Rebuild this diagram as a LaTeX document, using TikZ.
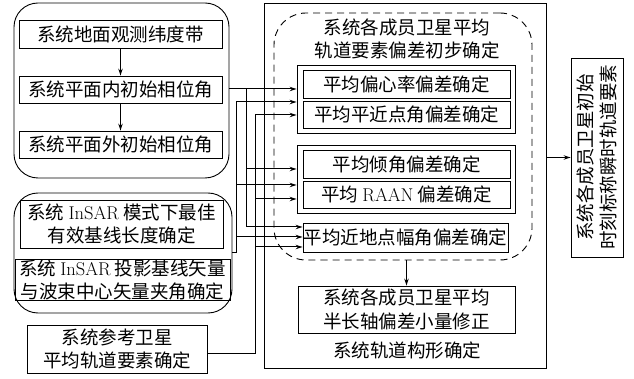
\documentclass[tikz,border=0pt]{standalone}
\usepackage{fontspec}
\newfontfamily\cjk{Noto Sans CJK SC}
\usetikzlibrary{arrows.meta,shapes.misc}
\tikzset{
  txt/.style={font=\cjk\fontsize{18.5}{23.5}\selectfont, align=center, inner sep=0pt},
  box/.style={txt, draw, line width=0.9pt},
  grp/.style={draw, line width=0.9pt, rounded corners=24pt, inner sep=0pt},
  cgrp/.style={draw, line width=0.9pt, chamfered rectangle, chamfered rectangle xsep=8pt, chamfered rectangle ysep=8pt, inner sep=0pt},
  dgrp/.style={draw, line width=0.9pt, rounded corners=32pt, dash pattern=on 7pt off 5pt, inner sep=0pt},
  conn/.style={line width=1pt},
  arr/.style={conn, -{Stealth[length=7pt,width=4.5pt]}}
}
\begin{document}
\begin{tikzpicture}[x=1pt,y=-1pt]
\useasboundingbox (0,0) rectangle (634,379);
% left group 1
\node[grp, minimum width=215pt, minimum height=175pt] (lg1) at (121.5,90.5) {};
\node[box, minimum width=203pt, minimum height=28pt] (b1) at (120.5,34) {系统地面观测纬度带};
\node[box, minimum width=203pt, minimum height=27pt] (b2) at (120.5,89.5) {系统平面内初始相位角};
\node[box, minimum width=203pt, minimum height=27pt] (b3) at (120.5,144.5) {系统平面外初始相位角};
\draw[arr] (b1) -- (b2);
\draw[arr] (b2) -- (b3);
% left group 2
\node[grp, minimum width=218pt, minimum height=120pt] (lg2) at (123,253) {};
\node[box, minimum width=203pt, minimum height=48pt] (b4) at (121.5,224) {系统 {\rmfamily InSAR} 模式下最佳\\有效基线长度确定};
\node[box, minimum width=215pt, minimum height=40pt] (b5) at (122.5,280) {系统 {\rmfamily InSAR} 投影基线矢量\\与波束中心矢量夹角确定};
% reference satellite
\node[box, minimum width=180pt, minimum height=48pt] (b6) at (117,349) {系统参考卫星\\平均轨道要素确定};
% main box
\node[draw, line width=0.9pt, minimum width=282pt, minimum height=365pt, inner sep=0pt] (main) at (405,185.5) {};
\node[txt] (mainlbl) at (407,350) {系统轨道构形确定};
% dashed region
\node[dgrp, minimum width=258pt, minimum height=247pt] (dash) at (403,136.5) {};
\node[txt] (dtitle) at (407,39) {系统各成员卫星平均\\轨道要素偏差初步确定};
% chamfered groups
\node[cgrp, minimum width=218pt, minimum height=68pt] (cg1) at (406,99) {};
\node[box, minimum width=207pt, minimum height=28pt] (e1) at (406.5,84) {平均偏心率偏差确定};
\node[box, minimum width=207pt, minimum height=27pt] (e2) at (406.5,114.5) {平均平近点角偏差确定};
\node[cgrp, minimum width=218pt, minimum height=68pt] (cg2) at (406,179) {};
\node[box, minimum width=207pt, minimum height=28pt] (e3) at (406.5,164) {平均倾角偏差确定};
\node[box, minimum width=207pt, minimum height=27pt] (e4) at (406.5,194.5) {平均 {\rmfamily RAAN} 偏差确定};
\node[box, minimum width=205pt, minimum height=29pt] (e5) at (405.5,237.5) {平均近地点幅角偏差确定};
% semi-major axis box
\node[box, minimum width=217pt, minimum height=47pt] (e6) at (406.5,309.5) {系统各成员卫星平均\\半长轴偏差小量修正};
% right box
\node[box, rotate=90, minimum width=199pt, minimum height=52pt] (r) at (597,157.5) {系统各成员卫星初始\\时刻标称瞬时轨道要素};
% bus coordinates
\coordinate (A1) at (246,89);
\coordinate (A2) at (246,169);
\coordinate (A3) at (246,227);
\coordinate (B0) at (236,253);
\coordinate (B1) at (236,102);
\coordinate (B2) at (236,185);
\coordinate (B3) at (236,237);
\coordinate (C0) at (255,353);
\coordinate (C1) at (255,115);
\coordinate (C2) at (255,199);
\coordinate (C3) at (255,247);
% bus A
\draw[arr] (lg1.east |- A1) -- (cg1.west |- A1);
\draw[arr] (A1) -- (A3) -- (e5.west |- A3);
\draw[arr] (A2) -- (cg2.west |- A2);
% bus B
\draw[arr] (lg2.east |- B0) -- (B0) -- (B1) -- (cg1.west |- B1);
\draw[arr] (B2) -- (cg2.west |- B2);
\draw[arr] (B3) -- (e5.west |- B3);
% bus C
\draw[arr] (b6.east |- C0) -- (C0) -- (C1) -- (cg1.west |- C1);
\draw[arr] (C2) -- (cg2.west |- C2);
\draw[arr] (C3) -- (e5.west |- C3);
% downstream
\draw[arr] (e6.north |- dash.south) -- (e6.north);
\draw[arr] (main.east |- r.center) -- (r.north);
\end{tikzpicture}
\end{document}
